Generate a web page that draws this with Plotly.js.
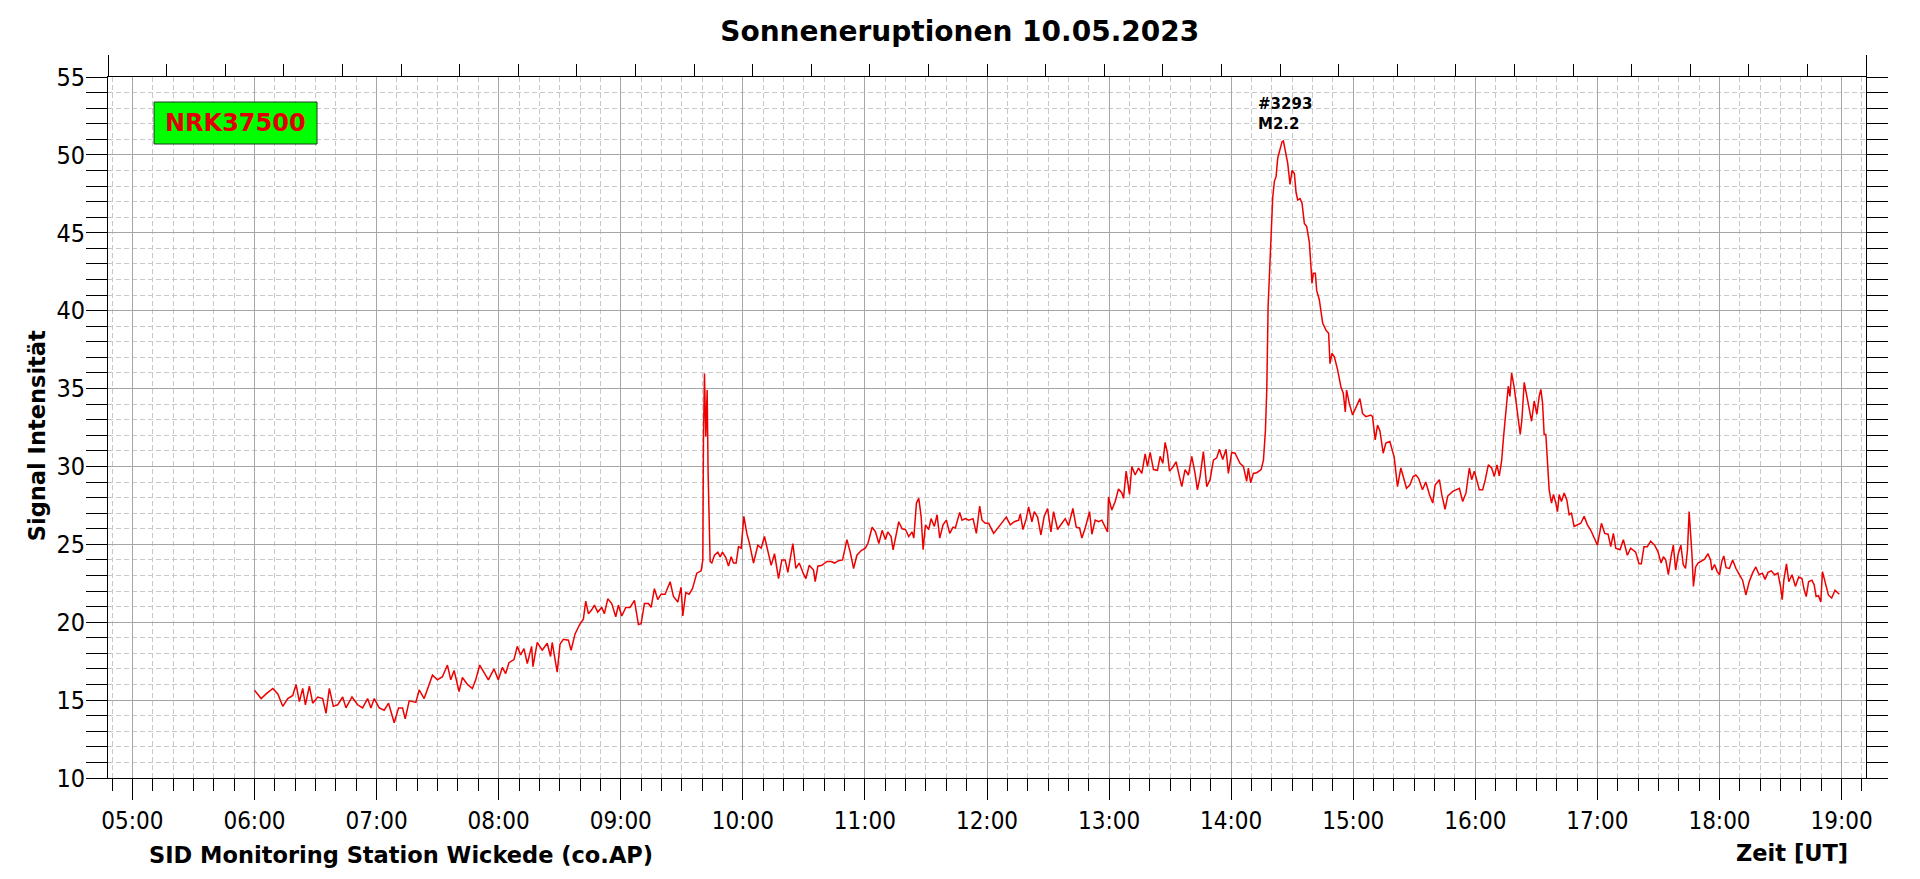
<!DOCTYPE html>
<html>
<head>
<meta charset="utf-8">
<script src="https://cdn.plot.ly/plotly-3.0.1.min.js"></script>
<style>
  html, body { margin: 0; padding: 0; background: #ffffff; }
  #chart { width: 1920px; height: 879px; }
</style>
</head>
<body>
<div id="chart"></div>
<script>
const chartTitle = "Sonneneruptionen 10.05.2023";
const dateStr = "2023-05-10";
const stationLabel = "NRK37500";
const flareLabel = "#3293<br>M2.2";
const flareTime = "14:25:40";
const flareValue = 50.9;
const yAxisLabel = "Signal Intensität";
const footLeft = "SID Monitoring Station Wickede (co.AP)";
const footRight = "Zeit [UT]";

const times = [
"06:00:00","06:03:16","06:05:43","06:09:00","06:11:27","06:13:54","06:16:21","06:18:48","06:20:26","06:22:04",
"06:23:42","06:25:01","06:26:58","06:28:36","06:31:04","06:33:31","06:35:09","06:36:47","06:38:45","06:40:52",
"06:43:19","06:44:58","06:47:54","06:50:41","06:53:08","06:55:35","06:57:13","06:58:51","07:01:18","07:03:45",
"07:05:53","07:08:40","07:10:48","07:12:45","07:14:04","07:16:02","07:19:18","07:20:56","07:23:23","07:25:31",
"07:27:28","07:29:55","07:32:22","07:34:49","07:36:27","07:38:06","07:40:33","07:42:11","07:44:38","07:47:05",
"07:48:43","07:50:41","07:52:48","07:54:56","07:57:43","07:59:50","08:01:48","08:03:26","08:05:04","08:07:31",
"08:09:09","08:10:48","08:12:26","08:14:04","08:16:12","08:16:51","08:18:58","08:21:25","08:23:52","08:25:30",
"08:26:19","08:28:46",
"08:30:10","08:31:48","08:34:16","08:35:35","08:37:32","08:40:00","08:41:38","08:42:47","08:44:06","08:45:44",
"08:47:03","08:48:41","08:50:39","08:51:58","08:53:37","08:55:34","08:57:32","08:58:51","09:00:30","09:02:28",
"09:04:35","09:06:43","09:08:41","09:10:00","09:11:38","09:13:36","09:14:55","09:16:33","09:18:11","09:19:50",
"09:21:48","09:24:16","09:25:54","09:28:02","09:29:40","09:30:29","09:31:58","09:33:36","09:35:15","09:37:23",
"09:39:30","09:40:20","09:40:39","09:41:09","09:41:48","09:42:28","09:42:57","09:43:27","09:43:56","09:44:45",
"09:46:04","09:47:42","09:48:51","09:50:00","09:51:38","09:52:57","09:54:16","09:55:25","09:56:43","09:57:52",
"09:59:11","10:00:30","10:01:58","10:03:17","10:05:15","10:07:23","10:09:01","10:10:39","10:12:37","10:13:56",
"10:15:34","10:17:32","10:19:10","10:20:49","10:22:07","10:23:26","10:24:35","10:26:04","10:27:42","10:29:50",
"10:30:59","10:32:37","10:34:45","10:35:34","10:36:53","10:38:51","10:41:19","10:43:26","10:45:05","10:47:03",
"10:49:01","10:51:09","10:52:47","10:54:26","10:56:04","10:58:12","11:00:10","11:01:28","11:02:37",
"11:03:33","11:05:12","11:06:50","11:08:28","11:10:06","11:11:14","11:12:52","11:13:51","11:15:00","11:16:38",
"11:18:17","11:19:55","11:21:33","11:23:12","11:24:01","11:25:19","11:26:28","11:27:37","11:28:36","11:29:45",
"11:31:22","11:32:31","11:34:09","11:35:27","11:36:46","11:38:24","11:40:02","11:41:41","11:43:19","11:44:27",
"11:46:35","11:47:44","11:49:22","11:51:00","11:53:08","11:54:46","11:56:24","11:57:33","11:59:11","12:00:49",
"12:03:16","12:05:14","12:07:22","12:09:29","12:11:27","12:13:25","12:15:33","12:16:22","12:17:40","12:19:18",
"12:20:27","12:22:05","12:23:14","12:24:52","12:26:30","12:28:08","12:29:47","12:31:25","12:32:43","12:34:41",
"12:36:49","12:38:27","12:40:05","12:42:13","12:43:51","12:45:29","12:46:38","12:48:16","12:50:24","12:51:33",
"12:53:11","12:54:49","12:56:27","12:58:05","12:59:14","12:59:43","13:01:21","13:02:59","13:04:38","13:06:16",
"13:07:05","13:08:23","13:10:02","13:11:11","13:12:49","13:14:27","13:16:05","13:17:44","13:18:52","13:20:11",
"13:21:49","13:23:47","13:25:05","13:26:24","13:27:32","13:28:41","13:29:40","13:31:18","13:32:56","13:34:34",
"13:35:43","13:37:21","13:38:59","13:40:38","13:42:16","13:43:25","13:44:43","13:46:21","13:48:00","13:49:38",
"13:51:16","13:52:54","13:54:13","13:55:51","13:57:29","13:58:38","14:00:16","14:01:54","14:04:21","14:06:00",
"14:07:38","14:08:27","14:09:35","14:10:54",
"14:12:35","14:14:43","14:15:52","14:16:50","14:17:30","14:18:09","14:18:48","14:19:37","14:20:26","14:21:15",
"14:22:04","14:22:53","14:24:02","14:25:01","14:25:40","14:26:39","14:27:48","14:28:56","14:29:55","14:31:04",
"14:31:53","14:32:42","14:33:51","14:34:50","14:35:58","14:37:07","14:38:25","14:39:14","14:39:44","14:40:23",
"14:41:22","14:42:01","14:43:19","14:44:58","14:46:36","14:47:54","14:48:34","14:49:32","14:50:41","14:52:19",
"14:53:57","14:55:06","14:56:05","14:56:44","14:58:02","14:59:40","15:01:18","15:03:16","15:04:34","15:06:13",
"15:08:40","15:09:29","15:10:47","15:11:56","15:13:05","15:14:43","15:16:01","15:17:59","15:20:07","15:21:45",
"15:23:23","15:25:01","15:26:10","15:27:48","15:29:26","15:30:44","15:32:03","15:34:01","15:35:39",
"15:37:26","15:39:04","15:40:13","15:42:20","15:43:29","15:45:07","15:46:26","15:48:53","15:50:31","15:52:09",
"15:53:47","15:55:25","15:57:03","15:58:12","15:59:31","16:00:49","16:01:58","16:03:36","16:04:54","16:06:23",
"16:08:01","16:09:19","16:10:38","16:11:46","16:12:55","16:13:54","16:15:02","16:16:11","16:17:00","16:17:49",
"16:19:08","16:20:26","16:22:04","16:22:53","16:24:02","16:25:20","16:26:29","16:27:38","16:28:56","16:30:15",
"16:31:23","16:32:12","16:33:01","16:33:50","16:34:39","16:35:28","16:36:17","16:37:26","16:38:25","16:39:33",
"16:40:23","16:41:12","16:42:20","16:43:39","16:44:58","16:46:06","16:47:15","16:48:33","16:50:11","16:51:50",
"16:53:28","16:55:06","16:56:44","16:58:22","17:00:00","17:01:58","17:03:36","17:05:14","17:06:33","17:07:51",
"17:09:00","17:11:07","17:12:45","17:14:43","17:16:21","17:18:48","17:20:26","17:21:35","17:22:53","17:24:31",
"17:26:10","17:28:07",
"17:29:40","17:31:18","17:32:25","17:33:34","17:34:52","17:36:10","17:37:18","17:38:26","17:39:44","17:41:01",
"17:42:10","17:43:18","17:44:16","17:45:05","17:45:53","17:46:32","17:47:11","17:48:18","17:49:28","17:51:05",
"17:52:42","17:54:20","17:55:37","17:56:16","17:57:34","17:58:52","18:00:00","18:01:08","18:02:06","18:03:14",
"18:04:52","18:06:29","18:08:06","18:09:44","18:11:21","18:12:58","18:14:36","18:16:13","18:17:50","18:19:28",
"18:21:05","18:22:23","18:23:50","18:25:28","18:27:05","18:28:42","18:30:00","18:30:49","18:31:37","18:32:55",
"18:34:03","18:35:40","18:37:18","18:38:55","18:40:32","18:41:40","18:42:38","18:43:47","18:45:24","18:46:32",
"18:47:30","18:48:39","18:49:47","18:50:36","18:51:53","18:53:31","18:55:08","18:56:46","18:58:52"
];

const signal = [
15.64,15.1,15.4,15.75,15.4,14.6,15.1,15.3,16.0,14.9,
15.75,14.7,15.9,14.8,15.2,15.1,14.15,15.75,14.6,14.7,
15.2,14.5,15.2,14.7,14.5,15.1,14.5,15.1,14.5,14.35,
14.8,13.55,14.5,14.5,13.8,14.95,14.85,15.65,15.1,15.85,
16.6,16.3,16.5,17.25,16.3,16.9,15.55,16.45,16.0,15.75,
16.3,17.25,16.8,16.3,17.0,16.3,17.1,16.7,17.4,17.6,
18.45,17.9,18.3,17.35,18.45,17.15,18.7,18.2,18.65,17.8,
18.7,16.8,
18.6,18.9,18.85,18.2,19.25,19.9,20.2,21.35,20.55,20.8,
21.1,20.65,20.95,20.55,21.5,21.2,20.35,21.1,20.4,20.95,
20.95,21.4,19.85,19.9,21.2,21.2,20.95,22.15,21.45,21.8,
21.8,22.6,21.65,21.3,22.25,20.4,21.9,21.8,22.15,23.15,
23.3,24.0,31.7,35.97,31.9,34.9,29.5,26.35,23.9,23.8,
24.3,24.5,24.2,24.5,24.15,23.6,24.2,23.8,23.8,24.85,
24.75,26.8,25.7,25.05,23.8,24.95,24.75,25.5,24.5,23.65,
24.4,22.8,24.0,24.0,23.2,24.3,25.05,23.45,23.8,23.1,
22.8,23.65,23.35,22.6,23.6,23.65,23.9,23.9,23.8,23.95,
24.0,25.3,24.5,23.45,24.3,24.6,24.75,25.05,25.6,
26.1,25.8,25.05,25.9,25.3,25.8,25.5,24.65,25.5,26.45,
26.0,25.95,25.5,25.8,25.4,27.65,27.95,26.8,24.65,26.25,
25.95,26.65,26.15,26.9,25.4,26.25,26.55,25.7,26.1,26.05,
27.05,26.55,26.65,26.55,26.65,25.7,27.45,26.55,26.35,26.35,
25.7,26.05,26.35,26.75,26.25,26.45,26.55,26.95,25.95,26.65,
27.4,26.45,27.1,26.75,25.6,26.8,27.3,25.8,27.1,25.95,
26.35,26.65,26.2,27.3,26.1,26.05,25.4,26.05,27.1,25.65,
26.55,26.45,26.55,26.1,25.8,28.05,27.2,27.75,28.55,28.3,
27.95,29.7,28.2,30.0,29.45,29.9,29.55,30.8,30.0,30.9,
29.8,29.75,30.65,30.2,31.55,30.85,29.7,29.95,30.3,29.35,
28.7,29.8,29.45,30.65,29.55,28.5,29.35,30.95,28.7,29.15,
30.4,30.55,31.1,30.45,31.1,29.55,30.9,30.85,30.2,30.0,
29.05,29.9,28.95,29.55,
29.6,29.8,30.4,32.3,34.9,40.25,42.6,45.2,47.3,48.3,
48.6,49.8,50.3,50.85,50.9,50.1,49.45,48.1,49.0,48.8,
47.6,47.1,47.2,46.9,45.6,45.4,44.4,42.8,41.75,42.4,
42.4,41.3,40.7,39.2,38.75,38.55,36.6,37.25,37.05,36.2,
35.1,34.7,33.5,34.9,34.05,33.3,33.8,34.35,33.4,33.2,
33.3,33.2,31.7,32.65,32.3,30.85,31.5,31.6,30.6,28.7,
29.9,29.1,28.6,28.8,29.35,29.45,29.25,28.5,29.0,
28.2,27.65,28.8,29.15,28.2,27.25,28.1,28.4,28.5,28.6,
27.75,28.3,29.9,29.15,29.7,28.95,28.5,28.5,29.15,30.1,
29.9,29.35,30.1,29.4,30.35,31.95,33.45,35.15,34.5,36.0,
35.05,33.65,32.05,33.0,35.4,34.5,33.65,32.9,34.2,33.35,
34.5,34.95,34.1,32.05,32.05,30.0,28.5,27.65,28.2,27.65,
27.1,28.2,27.75,28.3,27.85,26.9,27.0,26.15,26.25,26.35,
26.8,26.25,25.9,25.4,24.95,26.35,25.7,25.65,24.85,25.7,
24.75,24.65,25.3,24.3,24.75,24.5,23.75,23.75,24.85,24.85,
25.2,24.95,
24.55,23.8,24.2,24.0,23.05,24.2,24.95,23.35,24.4,24.95,
23.7,23.45,24.65,27.1,25.7,24.2,22.3,23.55,23.8,23.9,
24.05,24.4,24.0,23.35,23.7,23.25,23.05,23.9,24.25,23.5,
23.45,24.0,23.45,23.05,22.7,21.75,22.6,23.15,23.55,23.05,
23.15,22.75,23.2,23.3,23.05,23.15,22.3,21.45,22.7,23.75,
22.6,23.05,22.3,22.9,22.8,22.05,21.65,22.6,22.7,22.4,
21.65,21.7,21.3,23.25,22.5,21.75,21.55,22.05,21.8
];

const xRange = ["04:48:00", "19:12:00"];
const yRange = [10, 55];
const topAxisRange = [0, 30];

const stamp = t => dateStr + " " + t;

const boldFont = "DejaVu Sans, Verdana, sans-serif";
const tickFont = "DejaVu Sans Condensed, DejaVu Sans, sans-serif";
const majorGrid = "#a6a6a6";
const minorGrid = "#c8c8c8";

const traces = [
  {
    type: "scatter",
    mode: "lines",
    x: times.map(stamp),
    y: signal,
    line: { color: "#ee0000", width: 1.5 },
    hoverinfo: "skip",
    showlegend: false
  },
  {
    type: "scatter",
    mode: "lines",
    x: topAxisRange,
    y: [null, null],
    xaxis: "x2",
    yaxis: "y",
    hoverinfo: "skip",
    showlegend: false
  }
];

const layout = {
  width: 1920,
  height: 879,
  paper_bgcolor: "#ffffff",
  plot_bgcolor: "#ffffff",
  margin: { l: 108, r: 54, t: 77, b: 101, pad: 0 },
  showlegend: false,
  title: {
    text: "<b>" + chartTitle + "</b>",
    font: { family: boldFont, size: 28, color: "#000000" },
    xref: "paper", x: 0.4845, xanchor: "center",
    yref: "container", y: 0.9647, yanchor: "middle"
  },
  xaxis: {
    type: "date",
    range: xRange.map(stamp),
    tick0: stamp("00:00:00"),
    dtick: 3600000,
    tickformat: "%H:%M",
    ticks: "outside",
    ticklen: 21,
    tickwidth: 1,
    tickcolor: "#000000",
    showline: true,
    linecolor: "#000000",
    linewidth: 1,
    showgrid: true,
    gridcolor: majorGrid,
    gridwidth: 1,
    zeroline: false,
    tickfont: { family: tickFont, size: 24, color: "#000000" },
    minor: {
      dtick: 600000,
      tick0: stamp("00:00:00"),
      ticks: "outside",
      ticklen: 12,
      tickwidth: 1,
      tickcolor: "#000000",
      showgrid: true,
      gridcolor: minorGrid,
      gridwidth: 1,
      griddash: "5px,3px"
    },
    fixedrange: true
  },
  xaxis2: {
    overlaying: "x",
    side: "top",
    anchor: "y",
    range: topAxisRange,
    dtick: 30,
    tick0: 0,
    ticks: "outside",
    ticklen: 21,
    tickwidth: 1,
    tickcolor: "#000000",
    showticklabels: false,
    showline: true,
    linecolor: "#000000",
    linewidth: 1,
    showgrid: false,
    zeroline: false,
    minor: {
      dtick: 1,
      tick0: 0,
      ticks: "outside",
      ticklen: 12,
      tickwidth: 1,
      tickcolor: "#000000",
      showgrid: false
    },
    fixedrange: true
  },
  yaxis: {
    range: yRange,
    dtick: 5,
    tick0: 0,
    ticks: "outside",
    ticklen: 21,
    tickwidth: 1,
    tickcolor: "#000000",
    ticklabelstandoff: -4,
    showline: true,
    linecolor: "#000000",
    linewidth: 1,
    mirror: "allticks",
    showgrid: true,
    gridcolor: majorGrid,
    gridwidth: 1,
    zeroline: false,
    tickfont: { family: tickFont, size: 25, color: "#000000" },
    minor: {
      dtick: 1,
      ticks: "outside",
      ticklen: 12,
      tickwidth: 1,
      tickcolor: "#000000",
      showgrid: true,
      gridcolor: minorGrid,
      gridwidth: 1,
      griddash: "5px,3px"
    },
    fixedrange: true
  },
  shapes: [
    {
      type: "rect", xref: "paper", yref: "paper",
      x0: 0.0262, x1: 0.1189, y0: 0.9044, y1: 0.9643,
      fillcolor: "#00ff00",
      line: { color: "#1f3a1f", width: 1 },
      layer: "above"
    }
  ],
  annotations: [
    {
      text: "<b>" + stationLabel + "</b>",
      xref: "paper", yref: "paper",
      x: 0.07255, y: 0.93435, xanchor: "center", yanchor: "middle",
      showarrow: false,
      font: { family: boldFont, size: 24, color: "#e00000" }
    },
    {
      text: "<b>" + flareLabel + "</b>",
      xref: "x", yref: "y",
      x: stamp(flareTime), y: flareValue,
      xanchor: "left", yanchor: "bottom", align: "left",
      xshift: -27, yshift: 6,
      showarrow: false,
      font: { family: boldFont, size: 15, color: "#000000" }
    },
    {
      text: "<b>" + yAxisLabel + "</b>",
      xref: "paper", yref: "paper",
      x: -0.0404, y: 0.489, xanchor: "center", yanchor: "middle",
      textangle: -90,
      showarrow: false,
      font: { family: boldFont, size: 22.5, color: "#000000" }
    },
    {
      text: "<b>" + footLeft + "</b>",
      xref: "paper", yref: "paper",
      x: 0.0222, y: -0.1098, xanchor: "left", yanchor: "middle",
      showarrow: false,
      font: { family: boldFont, size: 22.5, color: "#000000" }
    },
    {
      text: "<b>" + footRight + "</b>",
      xref: "paper", yref: "paper",
      x: 0.9909, y: -0.107, xanchor: "right", yanchor: "middle",
      showarrow: false,
      font: { family: boldFont, size: 22.5, color: "#000000" }
    }
  ]
};

Plotly.newPlot("chart", traces, layout, { displayModeBar: false, staticPlot: true });
</script>
</body>
</html>
